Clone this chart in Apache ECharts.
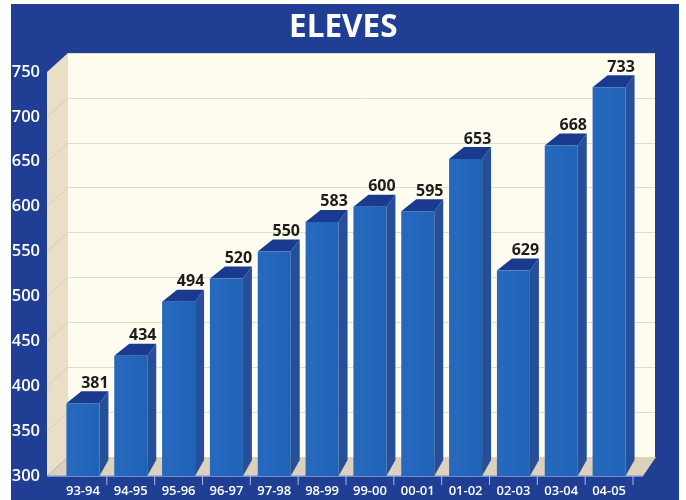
<!DOCTYPE html>
<html>
<head>
<meta charset="utf-8">
<style>
    html, body { margin: 0; padding: 0; background: #fff; }
    #charts { width: 686px; height: 500px; }
</style>
<script src="https://cdn.jsdelivr.net/npm/echarts@6/dist/echarts.min.js"></script>
</head>
<body>
<div id="charts"></div>
<script>
var seasons = ['93-94', '94-95', '95-96', '96-97', '97-98', '98-99', '99-00', '00-01', '01-02', '02-03', '03-04', '04-05'];
// heights as drawn; the printed label of 02-03 does not match its bar in the original
var barValues = [381, 434, 494, 520, 550, 583, 600, 595, 653, 529, 668, 733];
var barLabels = ['381', '434', '494', '520', '550', '583', '600', '595', '653', '629', '668', '733'];
var yMin = 300;
var yMax = 750;
var yStep = 50;

var FONT = '"Open Sans", sans-serif';
var myChart = echarts.init(document.getElementById('charts'));

// side wall, floor, axis line and the little diagonals on the wall
function renderRoom(params, api) {
    var band = api.size([1, 0])[0];
    var left = api.coord([0, yMin])[0] - band / 2 - 12;
    var right = api.coord([seasons.length - 1, yMin])[0] + band / 2 + 10;
    var bottom = api.coord([0, yMin])[1];
    var top = api.coord([0, yMax])[1];
    var dx = 21, dy = 19, dxRight = 13;
    var children = [
        { type: 'polygon', shape: { points: [[left, top], [left + dx, top - dy], [left + dx, bottom - dy], [left, bottom]] },
          style: { fill: '#eadfc6' } },
        { type: 'polygon', shape: { points: [[left, bottom], [left + dx, bottom - dy], [right + dxRight, bottom - dy], [right, bottom]] },
          style: { fill: '#ddd1bb' } }
    ];
    for (var v = yMin + yStep; v < yMax; v += yStep) {
        var y = api.coord([0, v])[1];
        children.push({ type: 'line', shape: { x1: left, y1: y, x2: left + dx, y2: y - dy },
            style: { stroke: '#dccfb0', lineWidth: 1 } });
    }
    children.push({ type: 'line', shape: { x1: left, y1: bottom, x2: right, y2: bottom },
        style: { stroke: '#8fa8d8', lineWidth: 1.5 } });
    return { type: 'group', children: children };
}

function renderBar(params, api) {
    var i = api.value(0);
    var base = api.coord([i, yMin]);
    var head = api.coord([i, api.value(1)]);
    var band = api.size([1, 0])[0];
    var w = 33, dx = 9, dxBack = 15, dy = 12, dyFloor = 16;
    var x0 = base[0] - w / 2, x1 = base[0] + w / 2;
    var yTop = head[1], yBot = base[1];
    return {
        type: 'group',
        children: [
            { type: 'line', shape: { x1: base[0] + band / 2, y1: yBot, x2: base[0] + band / 2, y2: yBot + 9 },
              style: { stroke: '#a9bce0', lineWidth: 1 } },
            { type: 'polygon', shape: { points: [[x1, yTop], [x1 + dx, yTop - dy], [x1 + dx, yBot - dyFloor], [x1, yBot]] },
              style: { fill: '#264f99' } },
            { type: 'polygon', shape: { points: [[x0, yTop], [x0 + dxBack, yTop - dy], [x1 + dx, yTop - dy], [x1, yTop]] },
              style: { fill: '#1a3a90' } },
            { type: 'rect', shape: { x: x0, y: yTop, width: w, height: yBot - yTop },
              style: { fill: new echarts.graphic.LinearGradient(0, 0, 1, 0, [
                  { offset: 0, color: '#2769bd' }, { offset: 1, color: '#2062b5' }
              ]) } },
            { type: 'text', x: x1 + dx - 13.5, y: yTop - dy - 8,
              style: { text: barLabels[i], fill: '#1c1c1c', font: '700 16px ' + FONT, textAlign: 'center', textVerticalAlign: 'middle' } }
        ]
    };
}

var option = {
    animation: false,
    backgroundColor: 'transparent',
    title: {
        text: 'ELEVES',
        left: 284,
        top: 7,
        textStyle: { color: '#fff', fontFamily: FONT, fontWeight: 700, fontSize: 31.5 }
    },
    graphic: [
        { type: 'rect', z: -1, shape: { x: 11, y: 4, width: 668, height: 496 }, style: { fill: '#1f3e94' } }
    ],
    grid: [
        { left: 59, top: 72, width: 574, height: 404 },
        // back wall, shifted up and right of the axes
        { left: 68, top: 53, width: 587, height: 404, show: true, backgroundColor: '#fffdf0', borderWidth: 0 }
    ],
    xAxis: [
        {
            type: 'category', data: seasons, gridIndex: 0,
            axisLine: { show: false }, axisTick: { show: false },
            axisLabel: { color: '#fff', fontFamily: FONT, fontWeight: 600, fontSize: 13, margin: 9 }
        },
        { type: 'category', data: seasons, gridIndex: 1, show: false }
    ],
    yAxis: [
        {
            type: 'value', gridIndex: 0, min: yMin, max: yMax, interval: yStep,
            axisLine: { show: false }, axisTick: { show: false }, splitLine: { show: false },
            axisLabel: { color: '#fff', fontFamily: FONT, fontWeight: 600, fontSize: 16.5, margin: 19 }
        },
        {
            type: 'value', gridIndex: 1, min: yMin, max: yMax, interval: yStep,
            axisLine: { show: false }, axisTick: { show: false }, axisLabel: { show: false },
            splitLine: { lineStyle: { color: '#e2dfc8', width: 1 } }
        }
    ],
    series: [
        { type: 'custom', name: 'room', xAxisIndex: 0, yAxisIndex: 0, z: 1, silent: true,
          renderItem: renderRoom, data: [[0, yMin]] },
        { type: 'custom', name: 'ELEVES', xAxisIndex: 0, yAxisIndex: 0, z: 2, silent: true,
          renderItem: renderBar, encode: { x: 0, y: 1 },
          data: barValues.map(function (v, i) { return [i, v]; }) }
    ]
};
myChart.setOption(option);
</script>
</body>
</html>
